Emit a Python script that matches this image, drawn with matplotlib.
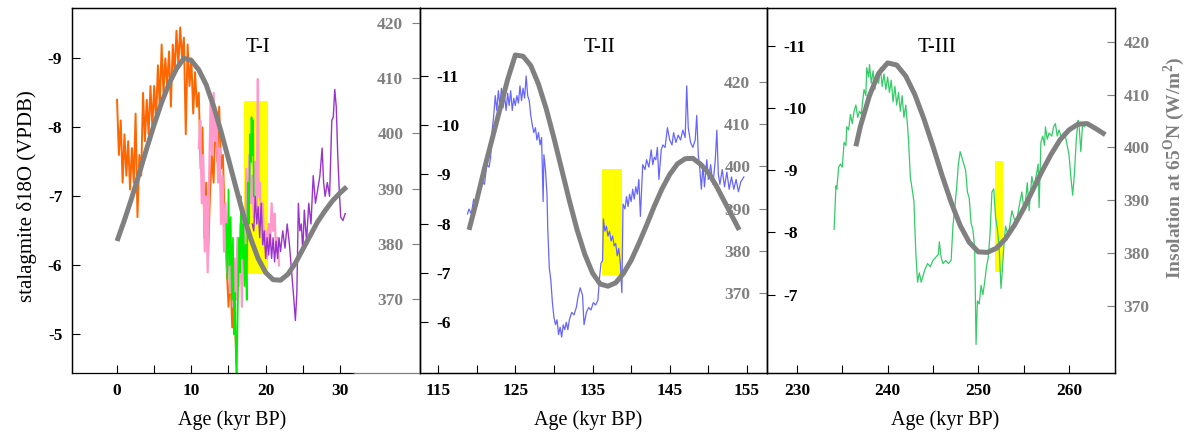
import matplotlib
matplotlib.use('Agg')
import matplotlib.pyplot as plt

plt.rcParams['font.family'] = ['Liberation Serif', 'DejaVu Serif']
plt.rcParams['axes.unicode_minus'] = False
plt.rcParams['mathtext.fontset'] = 'custom'
plt.rcParams['mathtext.rm'] = 'Liberation Serif'
plt.rcParams['mathtext.bf'] = 'Liberation Serif:bold'

gray = '#808080'

# ---- T-I records (kyr BP, d18O permil VPDB) ----
orange_age = [0.0, 0.25, 0.5, 0.75, 1.0, 1.25, 1.5, 1.75, 2.0, 2.25, 2.5, 2.75, 3.0, 3.25,
              3.5, 3.75, 4.0, 4.25, 4.5, 4.75, 5.0, 5.25, 5.5, 5.75, 6.0, 6.25, 6.5, 6.75,
              7.0, 7.25, 7.5, 7.75, 8.0, 8.25, 8.5, 8.75, 9.0, 9.25, 9.5, 9.75, 10.0, 10.25,
              10.5, 10.75, 11.0, 11.25, 11.5, 11.75, 12.0, 12.25, 12.5, 12.75, 13.0, 13.25,
              13.5, 13.75, 14.0, 14.25, 14.5, 14.75, 15.0, 15.25, 15.5, 15.75, 16.0]
orange_d18o = [-8.4, -7.6, -8.1, -7.2, -7.9, -7.3, -7.8, -7.1, -7.7, -7.2, -8.2, -6.7, -7.6, -7.3,
               -8.5, -7.8, -8.4, -7.9, -8.6, -8.0, -8.6, -8.1, -8.9, -8.3, -9.2, -8.5, -9.0, -8.6,
               -9.1, -8.3, -9.2, -8.8, -9.4, -8.9, -9.45, -9.0, -9.3, -7.9, -9.2, -8.6, -9.0, -8.2,
               -8.8, -8.3, -8.5, -7.4, -8.0, -6.4, -7.2, -6.1, -7.0, -7.6, -7.2, -8.2,
               -7.5, -8.3, -7.4, -7.6, -6.6, -6.0, -5.4, -5.9, -5.1, -5.5, -4.8]

pink_age = [11.0, 11.2, 11.4, 11.6, 11.8, 12.0, 12.2, 12.4, 12.6, 12.8, 13.0, 13.2, 13.4, 13.6,
            13.8, 14.0, 14.2, 14.4, 14.6, 14.8, 15.0, 15.2, 15.4, 15.6, 15.8, 16.0, 16.2, 16.4,
            16.6, 16.8, 17.0, 17.2, 17.4, 17.6, 17.8, 18.0, 18.2, 18.4, 18.6, 18.8, 18.95, 19.05,
            19.2, 19.4, 19.6, 19.8, 20.0, 20.2, 20.4, 20.6, 20.8, 21.0, 21.2, 21.4, 21.6, 21.8]
pink_d18o = [-7.7, -8.1, -6.9, -7.6, -6.2, -7.0, -5.9, -7.3, -8.4, -7.6, -8.5, -7.8, -8.1, -7.2,
             -7.7, -6.6, -7.3, -6.2, -6.9, -5.9, -6.5, -5.6, -6.3, -5.4, -6.1, -5.5, -6.4, -5.7,
             -6.6, -5.4, -6.8, -6.0, -7.4, -6.6, -7.6, -6.9, -7.3, -6.7, -7.5, -6.8, -8.7, -7.0,
             -7.2, -6.6, -6.9, -6.3, -6.5, -6.1, -6.6, -6.3, -6.9, -6.5, -6.75, -6.2, -6.4, -6.0]

green_age = [14.7, 14.85, 15.0, 15.15, 15.3, 15.45, 15.6, 15.75, 15.9, 16.0, 16.1, 16.25, 16.4,
             16.55, 16.7, 16.85, 17.0, 17.15, 17.3, 17.45, 17.6, 17.75, 17.9, 18.0, 18.1, 18.2,
             18.3, 18.4]
green_d18o = [-6.6, -5.8, -7.1, -6.0, -6.7, -5.5, -6.4, -5.0, -5.6, -4.6, -4.35, -5.4, -6.4,
              -5.9, -7.0, -6.1, -6.6, -5.7, -6.3, -5.5, -7.2, -6.6, -7.9, -7.5, -8.15, -7.6,
              -8.1, -7.0]

purple_age = [18.2, 18.4, 18.6, 18.8, 19.0, 19.2, 19.4, 19.6, 19.8, 20.0, 20.2, 20.4, 20.6, 20.8,
              21.0, 21.2, 21.4, 21.6, 21.8, 22.0, 22.3, 22.6, 22.9, 23.2, 23.5, 23.8, 24.0, 24.2,
              24.4, 24.6, 24.8, 25.0, 25.2, 25.5, 25.8, 26.1, 26.4, 26.7, 27.0, 27.3, 27.6, 27.8,
              28.0, 28.3, 28.6, 28.9, 29.1, 29.3, 29.5, 29.7, 29.9, 30.1, 30.4, 30.7]
purple_d18o = [-6.6, -6.5, -7.0, -6.6, -6.85, -6.4, -6.9, -6.3, -6.5, -6.1, -6.4, -6.15, -6.45, -6.1,
               -6.4, -6.05, -6.35, -6.1, -6.4, -6.2, -6.5, -6.25, -6.6, -6.3, -5.9, -5.5, -5.2, -5.6,
               -6.9, -6.5, -6.6, -6.2, -6.8, -6.35, -6.9, -6.6, -7.3, -6.9, -7.1, -7.3, -7.7, -7.2,
               -7.0, -7.2, -7.0, -8.1, -8.15, -8.55, -8.3, -7.6, -7.1, -6.7, -6.65, -6.75]

ins1_age = [0, 1, 2, 3, 4, 5, 6, 7, 8, 9, 10, 11, 12, 13, 14, 15, 16, 17, 18, 19, 20, 21, 22, 23,
            24, 25, 26, 27, 28, 29, 30, 30.9]
ins1 = [380.5, 384.3, 388.4, 392.8, 397.3, 401.6, 405.6, 409.0, 411.7, 413.6, 413.2, 411.5, 408.8,
        404.9, 400.3, 395.3, 390.2, 385.2, 380.9, 377.3, 374.8, 373.5, 373.4, 374.5, 376.5, 379.0,
        381.5, 384.0, 386.0, 387.8, 389.2, 390.3]
band1_age = [17.1, 20.3]
band1_d18o = [-8.38, -5.87]

# ---- T-II ----
blue_age = [118.8, 119.0, 119.3, 119.6, 119.9, 120.1, 120.4, 120.7, 121.0, 121.3, 121.6, 121.8,
            122.0, 122.2, 122.4, 122.6, 122.8, 123.0, 123.2, 123.4, 123.6, 123.8, 124.0, 124.2,
            124.4, 124.6, 124.8, 125.0, 125.2, 125.4, 125.6, 125.8, 126.0, 126.2, 126.4, 126.6,
            126.8, 127.0, 127.2, 127.4, 127.6, 127.8, 128.0, 128.2, 128.4, 128.6, 128.7, 128.9,
            129.1, 129.2, 129.4, 129.6, 129.8, 130.0, 130.2, 130.4, 130.6, 130.8, 131.0, 131.2,
            131.4, 131.6, 131.8, 132.0, 132.3, 132.6, 132.9, 133.1, 133.4, 133.7, 133.9, 134.2,
            134.5, 134.8, 135.1, 135.4, 135.7, 135.9, 136.1, 136.3, 136.4, 136.6, 136.8, 137.0,
            137.2, 137.4, 137.6, 137.8, 138.0, 138.2, 138.4, 138.6, 138.8, 138.95, 139.2, 139.4,
            139.6, 139.8, 140.0, 140.2, 140.4, 140.6, 140.8, 141.0, 141.2, 141.5, 141.8, 142.0,
            142.3, 142.6, 142.8, 143.0, 143.2, 143.4, 143.6, 143.9, 144.1, 144.4, 144.7, 145.0,
            145.3, 145.5, 145.8, 146.1, 146.4, 146.7, 147.0, 147.2, 147.4, 147.7, 148.0, 148.3,
            148.5, 148.7, 148.9, 149.1, 149.3, 149.5, 149.8, 150.0, 150.3, 150.6, 150.9, 151.1,
            151.3, 151.5, 151.8, 152.1, 152.4, 152.7, 153.0, 153.3, 153.6, 153.9, 154.2, 154.6]
blue_d18o = [-8.2, -8.3, -8.2, -8.5, -8.35, -8.6, -8.7, -8.85, -8.8, -9.2, -9.15, -9.35,
             -9.9, -10.2, -10.6, -10.3, -10.7, -10.4, -10.75, -10.35, -10.6, -10.3, -10.65, -10.4,
             -10.7, -10.3, -10.55, -10.4, -10.6, -10.45, -10.8, -10.5, -10.75, -10.55, -11.0, -10.6,
             -10.5, -10.2, -10.0, -9.85, -9.95, -9.7, -9.85, -9.6, -9.75, -8.45, -9.4, -9.1,
             -8.6, -7.9, -7.1, -6.85, -6.4, -6.1, -5.95, -6.05, -5.75, -5.9, -5.7, -5.95,
             -5.85, -6.0, -5.85, -6.05, -6.2, -6.15, -6.3, -6.5, -6.7, -6.55, -5.95, -6.2,
             -6.3, -6.25, -6.4, -6.35, -6.45, -6.9, -7.2, -7.25, -8.1, -7.85, -7.95, -7.75,
             -7.85, -7.65, -7.75, -7.55, -7.6, -7.35, -7.5, -7.2, -6.6, -8.4, -8.3, -8.55,
             -8.35, -8.6, -8.45, -8.7, -8.5, -8.75, -8.6, -8.9, -8.15, -9.2, -9.1, -9.3,
             -9.15, -9.5, -9.2, -9.35, -9.3, -9.55, -8.9, -9.5, -9.6, -9.55, -9.95, -9.7,
             -9.6, -9.85, -9.65, -9.8, -9.7, -9.9, -9.75, -10.8, -9.95, -9.65, -9.55, -9.7,
             -10.2, -9.4, -9.1, -8.7, -9.2, -8.75, -9.3, -8.9, -9.2, -8.8, -9.3, -9.9,
             -9.0, -8.8, -9.1, -8.75, -9.05, -8.7, -8.95, -8.7, -8.9, -8.65, -8.85, -8.95]

ins2_age = [119, 120, 121, 122, 123, 124, 125, 126, 127, 128, 129, 130, 131, 132, 133, 134, 135,
            136, 137, 138, 139, 140, 141, 142, 143, 144, 145, 146, 147, 148, 149, 150, 151, 152,
            153, 154]
ins2 = [385.0, 392.0, 399.5, 406.5, 413.5, 420.5, 426.3, 426.0, 423.8, 419.4, 413.6, 406.7, 399.3,
        391.9, 385.0, 379.2, 374.8, 372.2, 371.7, 372.5, 374.7, 377.8, 381.8, 386.1, 390.6, 394.7,
        398.1, 400.6, 401.8, 401.9, 400.5, 398.5, 395.5, 392.0, 388.5, 385.0]
band2_age = [136.2, 138.8]
band2_d18o = [-9.11, -6.96]

# ---- T-III ----
green3_age = [234.1, 234.3, 234.4, 234.6, 234.8, 235.0, 235.2, 235.4, 235.5, 235.7, 235.9, 236.1,
              236.3, 236.5, 236.7, 236.9, 237.1, 237.2, 237.4, 237.6, 237.7, 237.9, 238.0, 238.2,
              238.4, 238.6, 238.8, 239.0, 239.2, 239.4, 239.6, 239.8, 240.0, 240.2, 240.4, 240.6,
              240.8, 241.0, 241.2, 241.4, 241.6, 241.8, 242.0, 242.2, 242.3, 242.5, 242.7, 242.9,
              243.1, 243.3, 243.5, 243.7, 243.9, 244.1, 244.4, 244.7, 245.0, 245.3, 245.6, 245.7,
              245.9, 246.1, 246.4, 246.7, 247.0, 247.2, 247.4, 247.6, 247.8, 248.0, 248.2, 248.4,
              248.6, 248.8, 249.0, 249.2, 249.4, 249.6, 249.75, 249.9, 250.1, 250.3, 250.5, 250.7,
              250.9, 251.1, 251.3, 251.5, 251.7, 251.9, 252.1, 252.3, 252.5, 252.65, 252.8, 253.0,
              253.2, 253.4, 253.7, 254.0, 254.3, 254.6, 254.8, 255.0, 255.2, 255.4, 255.6, 255.9,
              256.1, 256.3, 256.6, 256.7, 256.9, 257.1, 257.3, 257.4, 257.6, 257.8, 258.1, 258.3,
              258.5, 258.7, 258.9, 259.2, 259.4, 259.6, 259.8, 260.0, 260.2, 260.4, 260.6, 260.8,
              261.0, 261.1, 261.3, 261.5, 261.7]
green3_d18o = [-8.05, -8.75, -8.7, -9.05, -9.1, -9.05, -9.45, -9.4, -9.7, -9.65, -9.9, -9.75,
               -9.95, -10.05, -9.85, -9.95, -9.9, -10.05, -10.3, -10.2, -10.65, -10.5, -10.7, -10.4,
               -10.6, -10.3, -10.55, -10.4, -10.65, -10.35, -10.55, -10.3, -10.5, -10.25, -10.45, -10.1,
               -10.35, -10.05, -10.25, -9.95, -10.2, -9.85, -10.05, -9.7, -9.5, -8.9, -8.7, -8.5,
               -7.7, -7.2, -7.35, -7.2, -7.3, -7.4, -7.5, -7.45, -7.55, -7.6, -7.65, -7.85,
               -7.6, -7.5, -7.55, -7.5, -7.55, -8.1, -8.4, -8.7, -9.1, -9.3, -9.2, -9.1,
               -9.0, -8.65, -8.55, -8.15, -8.05, -7.75, -6.2, -6.9, -6.85, -7.15, -7.0, -7.2,
               -7.45, -7.6, -8.0, -8.65, -8.7, -8.25, -8.05, -7.75, -7.1, -7.4, -7.75, -8.1,
               -8.0, -8.05, -8.35, -8.2, -8.25, -8.5, -8.65, -8.4, -8.5, -8.8, -8.35, -8.9,
               -8.75, -8.85, -9.1, -8.4, -9.45, -9.55, -9.4, -9.7, -9.5, -9.6, -9.55, -9.7,
               -9.75, -9.55, -9.65, -9.5, -9.6, -9.55, -9.4, -9.25, -8.9, -8.6, -8.95, -9.5,
               -9.8, -9.75, -9.3, -9.75, -9.7]

ins3_age = [236.5, 237, 238, 239, 240, 241, 242, 243, 244, 245, 246, 247, 248, 249, 250, 251, 252,
            253, 254, 255, 256, 257, 258, 259, 260, 261, 262, 263, 264]
ins3 = [400.2, 404.0, 409.8, 414.0, 416.0, 415.6, 413.5, 410.0, 405.4, 400.2, 394.7, 389.6, 385.2,
        382.0, 380.2, 380.1, 380.9, 382.7, 385.3, 388.4, 391.9, 395.4, 398.6, 401.4, 403.3, 404.4,
        404.5, 403.5, 402.4]
band3_age = [251.8, 252.75]
band3_d18o = [-9.15, -7.37]


fig = plt.figure(figsize=(11.9, 4.34), dpi=100)
W, H = 1190.0, 434.0


def box(x0, x1):
    return [x0 / W, 1 - 373 / H, (x1 - x0) / W, 365 / H]


ax1 = fig.add_axes(box(72, 420))
ax2 = fig.add_axes(box(420, 767))
ax3 = fig.add_axes(box(767, 1115))
tw1 = ax1.twinx()
tw2 = ax2.twinx()
tw3 = ax3.twinx()

# data
ax1.fill_between(band1_age, band1_d18o[0], band1_d18o[1], color='#ffff00', lw=0, zorder=1)
ax1.plot(orange_age, orange_d18o, color='#ff6600', lw=1.4, zorder=2)
ax1.plot(pink_age, pink_d18o, color='#ff99cc', lw=1.6, zorder=2)
ax1.plot(green_age, green_d18o, color='#00ee00', lw=1.2, zorder=2)
ax1.plot(purple_age, purple_d18o, color='#9933cc', lw=1.0, zorder=2)
tw1.plot(ins1_age, ins1, color=gray, lw=3.6, solid_capstyle='butt')

ax2.fill_between(band2_age, band2_d18o[0], band2_d18o[1], color='#ffff00', lw=0, zorder=1)
ax2.plot(blue_age, blue_d18o, color='#6666ff', lw=0.9, zorder=2)
tw2.plot(ins2_age, ins2, color=gray, lw=3.6, solid_capstyle='butt')

ax3.fill_between(band3_age, band3_d18o[0], band3_d18o[1], color='#ffff00', lw=0, zorder=1)
ax3.plot(green3_age, green3_d18o, color='#33cc66', lw=0.9, zorder=2)
tw3.plot(ins3_age, ins3, color=gray, lw=3.6, solid_capstyle='butt')

# axes setup
panels = [
    (ax1, tw1, (-6.06, 40.77), [0, 5, 10, 15, 20, 25, 30], ['0', '', '10', '', '20', '', '30'],
     (-4.44, -9.73), [-9, -8, -7, -6, -5], (356.6, 422.7)),
    (ax2, tw2, (112.65, 157.6), [115, 120, 125, 130, 135, 140, 145, 150, 155],
     ['115', '', '125', '', '135', '', '145', '', '155'],
     (-4.97, -12.38), [-11, -10, -9, -8, -7, -6], (351.2, 437.4)),
    (ax3, tw3, (226.7, 265.07), [230, 235, 240, 245, 250, 255, 260],
     ['230', '', '240', '', '250', '', '260'],
     (-5.74, -11.61), [-11, -10, -9, -8, -7], (357.25, 426.4)),
]
ins_ticks = [370, 380, 390, 400, 410, 420]

for i, (ax, tw, xl, xt, xtl, dl, dt, il) in enumerate(panels):
    ax.set_xlim(xl)
    ax.set_xticks(xt)
    ax.set_xticklabels(xtl, fontweight='bold', fontsize=12.5)
    ax.tick_params(axis='x', direction='in', length=6, width=0.8, pad=7)
    ax.set_ylim(dl)
    ax.set_yticks(dt)
    ax.set_yticklabels([str(v) for v in dt], fontweight='bold', fontsize=12.5)
    tw.set_ylim(il)
    tw.set_yticks(ins_ticks)
    tw.set_yticklabels([str(v) for v in ins_ticks], fontweight='bold', fontsize=12.5, color=gray)
    if i == 0:
        ax.tick_params(axis='y', direction='in', length=6, width=0.8, pad=7)
    else:
        ax.tick_params(axis='y', direction='in', length=6, width=0.8, pad=-11.5)
        for lab in ax.get_yticklabels():
            lab.set_horizontalalignment('left')
    if i < 2:
        tw.tick_params(axis='y', direction='in', length=6, width=0.8, colors=gray, pad=-12)
        for lab in tw.get_yticklabels():
            lab.set_horizontalalignment('right')
    else:
        tw.tick_params(axis='y', direction='in', length=6, width=0.8, colors=gray, pad=6)
    for a in (ax, tw):
        for s in a.spines.values():
            s.set_linewidth(0.9)
            s.set_color('black')

ax1.spines['bottom'].set_bounds(-6.06, 31.9)
tw1.spines['bottom'].set_bounds(31.9, 40.77)
tw1.spines['bottom'].set_color(gray)

# titles and labels
fig.text(258 / W, 1 - 47 / H, 'T-I', fontsize=15, ha='center', va='center')
fig.text(600 / W, 1 - 47 / H, 'T-II', fontsize=15, ha='center', va='center')
fig.text(937 / W, 1 - 47 / H, 'T-III', fontsize=15, ha='center', va='center')
for xc in (232, 588, 945):
    fig.text(xc / W, 1 - 420 / H, 'Age (kyr BP)', fontsize=14.5, ha='center', va='center')
fig.text(27 / W, 1 - 196 / H, 'stalagmite δ18O (VPDB)', fontsize=15, rotation=90,
         ha='center', va='center')
fig.text(1174 / W, 1 - 168 / H, 'Insolation at 65$^{\\mathbf{O}}$N (W/m$^{\\mathbf{2}}$)',
         fontsize=14, fontweight='bold', color=gray, rotation=90, ha='center', va='center')

fig.savefig('out.png', dpi=100)
